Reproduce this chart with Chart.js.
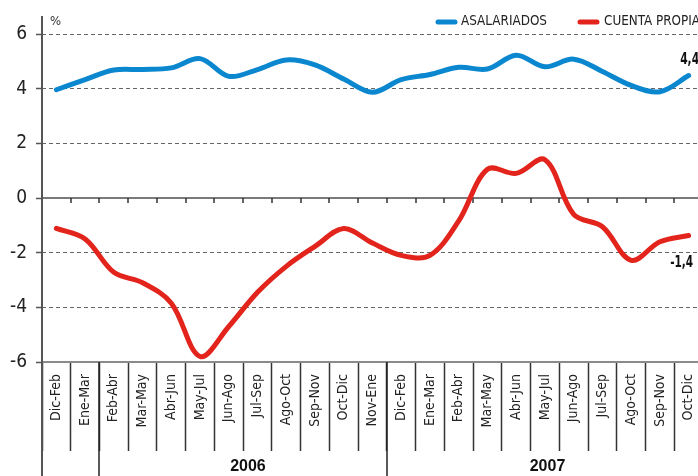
<!DOCTYPE html>
<html lang="es">
<head>
    <meta charset="UTF-8">
    <title>Asalariados y cuenta propia</title>
    <style>
        html, body { margin: 0; padding: 0; background: #fff; overflow: hidden; }
        #wrap { width: 698px; height: 476px; overflow: hidden; }
        canvas { display: block; }
    </style>
</head>
<body>
    <div id="wrap"><canvas id="myChart" width="703" height="476"></canvas></div>
    <script src="https://cdn.jsdelivr.net/npm/chart.js"></script>
    <script>
        // datos (variación interanual, %)
        const periods = ['Dic-Feb', 'Ene-Mar', 'Feb-Abr', 'Mar-May', 'Abr-Jun', 'May-Jul', 'Jun-Ago', 'Jul-Sep',
            'Ago-Oct', 'Sep-Nov', 'Oct-Dic', 'Nov-Ene', 'Dic-Feb', 'Ene-Mar', 'Feb-Abr', 'Mar-May', 'Abr-Jun',
            'May-Jul', 'Jun-Ago', 'Jul-Sep', 'Ago-Oct', 'Sep-Nov', 'Oct-Dic'];
        const asalariados = [3.96, 4.33, 4.68, 4.7, 4.76, 5.1, 4.45, 4.7, 5.05, 4.87, 4.35, 3.87,
            4.33, 4.52, 4.78, 4.72, 5.22, 4.8, 5.08, 4.63, 4.12, 3.89, 4.48];
        const cuentaPropia = [-1.11, -1.5, -2.72, -3.1, -3.85, -5.8, -4.7, -3.45, -2.5, -1.77, -1.12, -1.65,
            -2.1, -2.1, -0.84, 1.05, 0.9, 1.4, -0.6, -1.05, -2.28, -1.6, -1.37];
        const endLabels = ['4,4', '-1,4'];
        const yearGroups = [['2006', 2, 11], ['2007', 12, 22]]; // año, primer y último periodo

        const NARROW = "'Liberation Sans Narrow', 'Arial Narrow', 'DejaVu Sans Condensed', sans-serif";
        const BLUE = '#0a87cf';
        const RED = '#e3241c';

        // ejes prolongados, línea del cero, años, leyenda y etiquetas finales
        const extras = {
            id: 'extras',
            beforeDatasetsDraw(chart) {
                const { ctx, chartArea: a, scales: { x, y } } = chart;
                const step = x.getPixelForValue(1) - x.getPixelForValue(0);
                const y0 = y.getPixelForValue(0);
                ctx.save();
                ctx.strokeStyle = '#7a7a7a';
                ctx.lineWidth = 2;
                ctx.beginPath();
                ctx.moveTo(a.left, y0);
                ctx.lineTo(a.right, y0);
                ctx.stroke();
                ctx.strokeStyle = '#333';
                ctx.lineWidth = 1.5;
                for (let i = 1; i <= periods.length; i++) {
                    const px = Math.round(x.getPixelForValue(i) - step / 2);
                    ctx.beginPath();
                    ctx.moveTo(px, y0);
                    ctx.lineTo(px, y0 + 5);
                    ctx.stroke();
                }
                ctx.restore();
            },
            afterDraw(chart) {
                const { ctx, chartArea: a, scales: { x, y } } = chart;
                const step = x.getPixelForValue(1) - x.getPixelForValue(0);
                const bottom = y.getPixelForValue(-6);
                ctx.save();

                // eje vertical
                ctx.strokeStyle = '#555';
                ctx.lineWidth = 2;
                ctx.beginPath();
                ctx.moveTo(a.left, 16);
                ctx.lineTo(a.left, chart.height);
                ctx.stroke();

                // separadores y rótulos de año
                ctx.strokeStyle = '#222';
                ctx.lineWidth = 1.5;
                ctx.fillStyle = '#111';
                ctx.font = "bold 16px 'Liberation Sans', Arial, sans-serif";
                ctx.textAlign = 'center';
                ctx.textBaseline = 'middle';
                yearGroups.forEach(([label, from, to]) => {
                    const x1 = Math.round(x.getPixelForValue(from) - step / 2);
                    const x2 = x.getPixelForValue(to) + step / 2;
                    ctx.beginPath();
                    ctx.moveTo(x1, bottom);
                    ctx.lineTo(x1, chart.height);
                    ctx.stroke();
                    ctx.fillText(label, (x1 + Math.min(x2, 698)) / 2 + 5, 467);
                });

                // unidad
                ctx.font = '13px ' + NARROW;
                ctx.textAlign = 'left';
                ctx.fillStyle = '#333';
                ctx.fillText('%', 50, 22);

                // leyenda
                const legend = [[436, 461, 86], [578, 604, 96]];
                ctx.lineCap = 'round';
                ctx.lineWidth = 5;
                ctx.font = '14px ' + NARROW;
                chart.data.datasets.forEach((ds, i) => {
                    const [lx, tx, w] = legend[i];
                    ctx.strokeStyle = ds.borderColor;
                    ctx.beginPath();
                    ctx.moveTo(lx + 2, 22);
                    ctx.lineTo(lx + 19, 22);
                    ctx.stroke();
                    ctx.fillStyle = '#222';
                    ctx.fillText(ds.label, tx, 21, w);
                });

                // valores finales
                ctx.font = 'bold 16px ' + NARROW;
                ctx.fillStyle = '#111';
                ctx.textAlign = 'center';
                const offsets = [[1, -16, 19], [-7, 27, 23]];
                chart.data.datasets.forEach((ds, i) => {
                    const pts = chart.getDatasetMeta(i).data;
                    const p = pts[pts.length - 1];
                    ctx.fillText(endLabels[i], p.x + offsets[i][0], p.y + offsets[i][1], offsets[i][2]);
                });
                ctx.restore();
            }
        };

        const ctx = document.getElementById('myChart');

        new Chart(ctx, {
            type: 'line',
            data: {
                labels: periods,
                datasets: [
                    {
                        label: 'ASALARIADOS',
                        data: asalariados,
                        borderColor: BLUE,
                        borderWidth: 5,
                        borderCapStyle: 'round',
                        borderJoinStyle: 'round',
                        pointRadius: 0,
                        tension: 0.35,
                        fill: false
                    },
                    {
                        label: 'CUENTA PROPIA',
                        data: cuentaPropia,
                        borderColor: RED,
                        borderWidth: 5,
                        borderCapStyle: 'round',
                        borderJoinStyle: 'round',
                        pointRadius: 0,
                        tension: 0.35,
                        fill: false
                    }
                ]
            },
            options: {
                responsive: false,
                animation: false,
                devicePixelRatio: 1,
                layout: { padding: { top: 34, right: 0, left: 0, bottom: 0 } },
                plugins: {
                    legend: { display: false },
                    tooltip: { enabled: false }
                },
                scales: {
                    x: {
                        offset: true,
                        afterFit: function (scale) { scale.height = 114; },
                        border: { display: true, color: '#8a8a8a', width: 2 },
                        grid: {
                            offset: true,
                            drawOnChartArea: false,
                            tickLength: 89,
                            tickColor: '#333',
                            tickWidth: 1.5
                        },
                        ticks: {
                            autoSkip: false,
                            minRotation: 90,
                            maxRotation: 90,
                            padding: -77,
                            color: '#222',
                            font: { family: NARROW, size: 14 }
                        }
                    },
                    y: {
                        min: -6,
                        max: 6,
                        afterFit: function (scale) { scale.width = 42; },
                        border: { display: false, dash: [4, 3] },
                        grid: {
                            color: function (c) {
                                return (c.tick.value === 0 || c.tick.value === -6) ? 'rgba(0,0,0,0)' : '#666';
                            },
                            lineWidth: 1,
                            tickLength: 6,
                            tickColor: '#555',
                            tickWidth: 1.5
                        },
                        ticks: {
                            stepSize: 2,
                            padding: 9,
                            color: '#222',
                            font: { family: NARROW, size: 19 },
                            callback: function (value) {
                                return String(value);
                            }
                        }
                    }
                }
            },
            plugins: [extras]
        });
    </script>
</body>
</html>
